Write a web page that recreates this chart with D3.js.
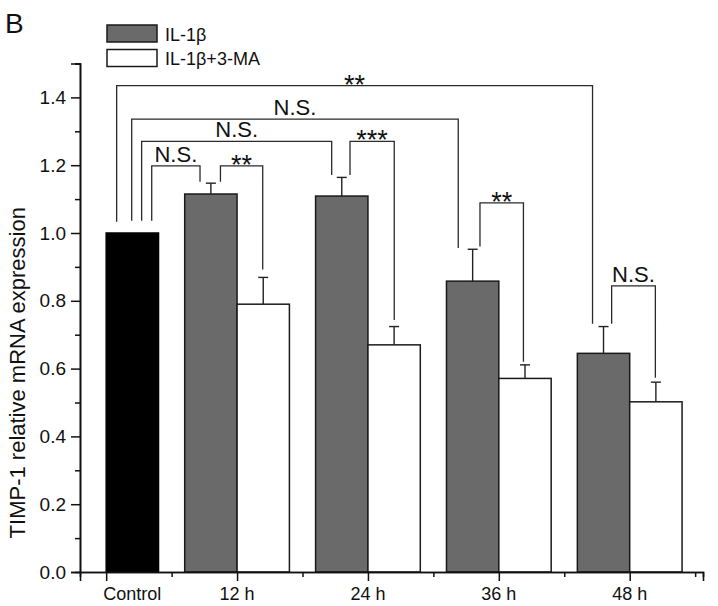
<!DOCTYPE html>
<html><head><meta charset="utf-8">
<script src="https://cdn.jsdelivr.net/npm/d3@7"></script>
<style>
body{margin:0;background:#fff}
svg{display:block}
text{font-family:"Liberation Sans",Arial,Helvetica,sans-serif;fill:#111}
</style>
</head><body><svg id="chart" width="718" height="606"></svg>
<script>
// ---- data ----
const categories = ["Control", "12 h", "24 h", "36 h", "48 h"];
const controlValue = [1.0];
const il1b = [null, 1.115, 1.109, 0.858, 0.645];
const il1bErr = [null, 0.032, 0.055, 0.094, 0.079];
const il1b3ma = [null, 0.790, 0.670, 0.571, 0.502];
const il1b3maErr = [null, 0.079, 0.054, 0.040, 0.058];
const yMajorTicks = [0, 0.2, 0.4, 0.6, 0.8, 1.0, 1.2, 1.4];
const yTickLabels = ["0.0", "0.2", "0.4", "0.6", "0.8", "1.0", "1.2", "1.4"];
const yMinorTicks = [0.1, 0.3, 0.5, 0.7, 0.9, 1.1, 1.3, 1.5];
const seriesNames = ["IL-1\u03b2", "IL-1\u03b2+3-MA"];
const yTitle = "TIMP-1 relative mRNA expression";
const panelLabel = "B";
// significance brackets (x in category units, y in expression units)
const bracketLabels = ["**", "N.S.", "N.S.", "N.S.", "**", "***", "**", "N.S."];
const bracketX1 = [0.080, 0.195, 0.271, 0.348, 0.873, 1.863, 2.856, 3.862];
const bracketX2 = [3.716, 2.690, 1.723, 0.717, 1.196, 2.201, 3.188, 4.196];
const bracketTop = [1.4345, 1.336, 1.270, 1.198, 1.198, 1.270, 1.089, 0.844];
const bracketY1 = [1.033, 1.036, 1.036, 1.036, 1.151, 1.171, 0.960, 0.732];
const bracketY2 = [0.732, 0.956, 1.171, 1.151, 0.892, 0.743, 0.620, 0.573];

// ---- layout ----
const svg = d3.select("#chart");
const x = d3.scaleLinear().domain([-0.2, 4.56]).range([80, 703]);
const y = d3.scaleLinear().domain([0, 1.5]).range([572, 63.5]);
const barW = 0.4;
const grayFill = "#6a6a6a";
const edge = "#1a1a1a";

// bars
const g = svg.append("g");
g.selectAll("rect.ctrl").data(controlValue).join("rect")
  .attr("x", x(0)).attr("width", x(barW) - x(0))
  .attr("y", d => y(d)).attr("height", d => y(0) - y(d))
  .attr("fill", "#000").attr("stroke", "#000").attr("stroke-width", 1.5);

const idx = d3.range(categories.length).filter(i => il1b[i] != null);
g.selectAll("rect.s1").data(idx).join("rect")
  .attr("x", i => x(i - barW)).attr("width", x(barW) - x(0))
  .attr("y", i => y(il1b[i])).attr("height", i => y(0) - y(il1b[i]))
  .attr("fill", grayFill).attr("stroke", edge).attr("stroke-width", 1.5);
g.selectAll("rect.s2").data(idx).join("rect")
  .attr("x", i => x(i)).attr("width", x(barW) - x(0))
  .attr("y", i => y(il1b3ma[i])).attr("height", i => y(0) - y(il1b3ma[i]))
  .attr("fill", "#fff").attr("stroke", edge).attr("stroke-width", 1.5);

// error bars
function errBars(vals, errs, off) {
  idx.forEach(i => {
    const cx = x(i + off);
    const y0 = y(vals[i]), y1 = y(vals[i] + errs[i]);
    g.append("line").attr("x1", cx).attr("x2", cx).attr("y1", y0).attr("y2", y1)
      .attr("stroke", "#222").attr("stroke-width", 1.4);
    g.append("line").attr("x1", cx - 5).attr("x2", cx + 5).attr("y1", y1).attr("y2", y1)
      .attr("stroke", "#222").attr("stroke-width", 1.4);
  });
}
errBars(il1b, il1bErr, -barW / 2);
errBars(il1b3ma, il1b3maErr, barW / 2);

// brackets
const br = svg.append("g");
bracketLabels.forEach((lab, k) => {
  const x1 = x(bracketX1[k]), x2 = x(bracketX2[k]), yt = y(bracketTop[k]);
  br.append("path")
    .attr("d", `M${x1},${y(bracketY1[k])}V${yt}H${x2}V${y(bracketY2[k])}`)
    .attr("fill", "none").attr("stroke", "#2a2a2a").attr("stroke-width", 1.3);
  const isStar = lab.indexOf("*") >= 0;
  br.append("text").attr("x", (x1 + x2) / 2)
    .attr("y", isStar ? yt + 8 : yt - 4)
    .attr("text-anchor", "middle").attr("font-size", isStar ? 27 : 22).text(lab);
});

// y axis
const yAxisG = svg.append("g").attr("transform", `translate(${x(-0.2)},0)`);
yAxisG.call(d3.axisLeft(y).tickValues(yMajorTicks).tickSize(9).tickPadding(5)
  .tickFormat((d, i) => yTickLabels[i]));
yAxisG.append("g").call(d3.axisLeft(y).tickValues(yMinorTicks).tickSize(5).tickFormat(""));
yAxisG.selectAll("path.domain").attr("stroke", "#111").attr("stroke-width", 1.6);
yAxisG.selectAll(".tick line").attr("stroke", "#111").attr("stroke-width", 1.5);
yAxisG.selectAll(".tick text").attr("font-size", 19).attr("fill", "#111")
  .style("font-family", '"Liberation Sans",Arial,sans-serif');

// x axis
const xAxisG = svg.append("g").attr("transform", `translate(0,${y(0)})`);
xAxisG.call(d3.axisBottom(x).tickValues(d3.range(categories.length)).tickSize(9).tickFormat(""));
xAxisG.append("g").call(d3.axisBottom(x).tickValues(d3.range(categories.length).map(i => i + 0.5))
  .tickSize(5).tickFormat(""));
xAxisG.selectAll("path.domain").attr("stroke", "#111").attr("stroke-width", 1.6);
xAxisG.selectAll(".tick line").attr("stroke", "#111").attr("stroke-width", 1.5);
svg.append("g").selectAll("text").data(categories).join("text")
  .attr("x", (d, i) => i === 0 ? x(barW / 2) : x(i))
  .attr("y", 600).attr("text-anchor", "middle").attr("font-size", 18).text(d => d);

// y title
svg.append("text").attr("transform", `translate(25,${(y(0) + y(1.5)) / 2 + 55}) rotate(-90)`)
  .attr("text-anchor", "middle").attr("font-size", 22).text(yTitle);

// panel label
svg.append("text").attr("x", 5).attr("y", 33).attr("font-size", 28).text(panelLabel);

// legend
const lg = svg.append("g");
const legFills = [grayFill, "#fff"];
seriesNames.forEach((s, k) => {
  lg.append("rect").attr("x", 107).attr("y", 25 + k * 24.5).attr("width", 50).attr("height", 17)
    .attr("fill", legFills[k]).attr("stroke", edge).attr("stroke-width", 1.5);
  lg.append("text").attr("x", 165).attr("y", 41 + k * 24).attr("font-size", 18).text(s);
});
</script>
</body></html>
